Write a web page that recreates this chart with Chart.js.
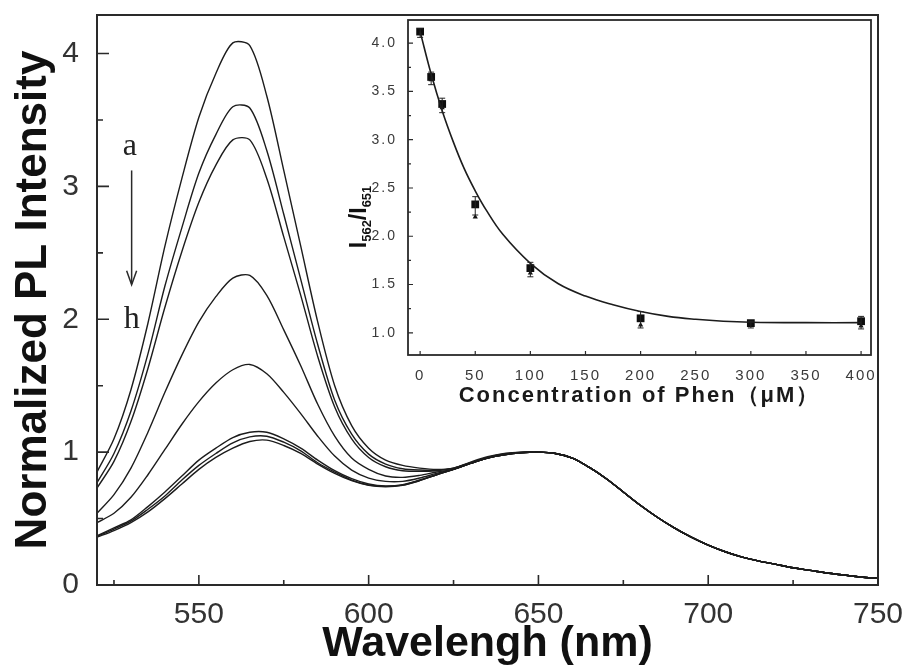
<!DOCTYPE html>
<html><head><meta charset="utf-8">
<script src="https://cdn.jsdelivr.net/npm/chart.js@4.4.1/dist/chart.umd.min.js"></script>
<style>
html,body{margin:0;padding:0;background:#fff;}
#wrap{position:relative;width:912px;height:671px;overflow:hidden;}
#main{position:absolute;left:0;top:0;}
#inset{position:absolute;left:320px;top:0;}
</style></head><body>
<div id="wrap"><canvas id="main" width="912" height="671"></canvas><canvas id="inset" width="565" height="420"></canvas></div>
<script>
// ---------- main spectra ----------
const wavelengths = [520,525,530,535,540,545,550,555,560,565,570,575,580,585,590,595,600,605,610,615,620,625,
  630,635,640,645,650,655,660,665,670,675,680,685,690,695,700,705,710,715,720,725,730,735,740,745,750];
const curveA = [0.85,1.10,1.47,1.97,2.55,3.06,3.52,3.85,4.08,4.06,3.68,3.12,2.55,1.98,1.50,1.20,1.03,0.94,0.90,0.88,0.87,0.88,
  0.925,0.965,0.99,1.0,1.0,0.99,0.955,0.885,0.80,0.70,0.60,0.51,0.43,0.36,0.30,0.25,0.21,0.18,0.155,0.13,0.11,0.09,0.075,0.06,0.05];
const curveB = [0.77,0.99,1.31,1.74,2.25,2.69,3.10,3.39,3.60,3.59,3.27,2.79,2.30,1.81,1.39,1.135,0.985,0.91,0.875,0.865,0.864,0.878,
  0.92,0.96,0.988,1.0,1.0,0.99,0.955,0.885,0.80,0.70,0.60,0.51,0.43,0.36,0.30,0.25,0.21,0.18,0.155,0.13,0.11,0.09,0.075,0.06,0.05];
const curveC = [0.73,0.93,1.23,1.63,2.09,2.51,2.88,3.16,3.35,3.35,3.06,2.62,2.18,1.72,1.34,1.10,0.96,0.89,0.86,0.855,0.86,0.88,
  0.918,0.958,0.985,0.998,1.0,0.99,0.955,0.885,0.80,0.70,0.60,0.51,0.43,0.36,0.30,0.25,0.21,0.18,0.155,0.13,0.11,0.09,0.075,0.06,0.05];
const curveD = [0.54,0.68,0.88,1.15,1.45,1.73,1.98,2.17,2.31,2.33,2.18,1.92,1.65,1.36,1.12,0.955,0.87,0.82,0.81,0.825,0.85,0.872,
  0.915,0.955,0.982,0.996,1.0,0.99,0.955,0.885,0.80,0.70,0.60,0.51,0.43,0.36,0.30,0.25,0.21,0.18,0.155,0.13,0.11,0.09,0.075,0.06,0.05];
const curveE = [0.47,0.54,0.66,0.83,1.02,1.21,1.38,1.52,1.62,1.66,1.59,1.45,1.29,1.12,0.97,0.865,0.805,0.78,0.78,0.805,0.84,0.87,
  0.915,0.955,0.98,0.995,1.0,0.99,0.955,0.885,0.80,0.70,0.60,0.51,0.43,0.36,0.30,0.25,0.21,0.18,0.155,0.13,0.11,0.09,0.075,0.06,0.05];
const curveF = [0.37,0.43,0.49,0.59,0.70,0.82,0.94,1.03,1.11,1.15,1.15,1.10,1.03,0.94,0.86,0.80,0.76,0.745,0.755,0.79,0.83,0.87,
  0.915,0.955,0.98,0.995,1.0,0.99,0.955,0.885,0.80,0.70,0.60,0.51,0.43,0.36,0.30,0.25,0.21,0.18,0.155,0.13,0.11,0.09,0.075,0.06,0.05];
const curveG = [0.365,0.42,0.48,0.57,0.67,0.79,0.90,0.99,1.07,1.115,1.12,1.075,1.01,0.92,0.85,0.79,0.753,0.742,0.752,0.786,0.83,0.87,
  0.915,0.955,0.98,0.995,1.0,0.99,0.955,0.885,0.80,0.70,0.60,0.51,0.43,0.36,0.30,0.25,0.21,0.18,0.155,0.13,0.11,0.09,0.075,0.06,0.05];
const curveH = [0.36,0.41,0.47,0.55,0.65,0.76,0.87,0.96,1.03,1.08,1.09,1.05,0.99,0.91,0.84,0.785,0.75,0.74,0.75,0.785,0.83,0.87,
  0.915,0.955,0.98,0.995,1.0,0.99,0.955,0.885,0.80,0.70,0.60,0.51,0.43,0.36,0.30,0.25,0.21,0.18,0.155,0.13,0.11,0.09,0.075,0.06,0.05];
const seriesNames = ['a','b','c','d','e','f','g','h'];
const mainXTicks = [550,600,650,700,750];
const mainXMinor = [525,575,625,675,725];
const mainYTicks = [0,1,2,3,4];
const mainYMinor = [0.5,1.5,2.5,3.5];

// ---------- inset ----------
const concentrations = [0,10,20,50,100,200,300,400];
const ratioMeans  = [4.12,3.65,3.37,2.33,1.67,1.15,1.10,1.12];
const ratioAlt    = [4.10,3.62,3.33,2.20,1.62,1.08,1.09,1.07];
const ratioErrors = [0.03,0.05,0.06,0.08,0.06,0.07,0.02,0.05];
const fitConc  = [0,10,20,30,40,50,60,75,100,125,150,175,200,225,250,275,300,350,400];
const fitRatio = [4.12,3.68,3.30,2.98,2.70,2.47,2.27,2.02,1.72,1.51,1.38,1.29,1.22,1.17,1.14,1.12,1.11,1.105,1.105];
const insetXTicks = [0,50,100,150,200,250,300,350,400];
const insetYTicks = [1.0,1.5,2.0,2.5,3.0,3.5,4.0];
const insetYMinor = [1.25,1.75,2.25,2.75,3.25,3.75];

Chart.defaults.font.family = "'Liberation Sans', Arial, sans-serif";
Chart.defaults.color = '#222';

const curves = [curveA,curveB,curveC,curveD,curveE,curveF,curveG,curveH];

const mainFrame = {
  id:'mainFrame',
  afterDraw(chart){
    const {ctx, chartArea:{left,right,top,bottom}, scales:{x,y}} = chart;
    ctx.save();
    ctx.strokeStyle = '#2a2a2a';
    ctx.lineWidth = 2;
    ctx.strokeRect(left, top, right-left, bottom-top);
    ctx.lineWidth = 1.6;
    ctx.beginPath();
    mainXTicks.forEach(v=>{const p=x.getPixelForValue(v); ctx.moveTo(p,bottom); ctx.lineTo(p,bottom-10);});
    mainXMinor.forEach(v=>{const p=x.getPixelForValue(v); ctx.moveTo(p,bottom); ctx.lineTo(p,bottom-5);});
    mainYTicks.forEach(v=>{const p=y.getPixelForValue(v); ctx.moveTo(left,p); ctx.lineTo(left+12,p);});
    mainYMinor.forEach(v=>{const p=y.getPixelForValue(v); ctx.moveTo(left,p); ctx.lineTo(left+6,p);});
    ctx.stroke();
    // a -> h annotation
    ctx.fillStyle = '#222';
    ctx.font = "32px 'Liberation Serif', 'Times New Roman', serif";
    ctx.textAlign = 'center'; ctx.textBaseline = 'middle';
    ctx.fillText(seriesNames[0], x.getPixelForValue(529.7), y.getPixelForValue(3.30));
    ctx.fillText(seriesNames[7], x.getPixelForValue(530.2), y.getPixelForValue(2.00));
    const ax = x.getPixelForValue(530.2), ay0 = y.getPixelForValue(3.12), ay1 = y.getPixelForValue(2.26);
    ctx.lineWidth = 1.5;
    ctx.beginPath(); ctx.moveTo(ax, ay0); ctx.lineTo(ax, ay1-1); ctx.stroke();
    ctx.beginPath(); ctx.moveTo(ax-5, ay1-14); ctx.lineTo(ax, ay1); ctx.lineTo(ax+5, ay1-14); ctx.stroke();
    ctx.restore();
  }
};

new Chart(document.getElementById('main'), {
  type:'line',
  data:{
    datasets: curves.map((c,i)=>({
      label: seriesNames[i],
      data: wavelengths.map((w,j)=>({x:w, y:c[j]})),
      borderColor:'#1c1c1c', borderWidth:1.4, pointRadius:0, tension:0.3, fill:false
    }))
  },
  options:{
    responsive:false, animation:false, events:[],
    layout:{padding:{top:15,right:34,left:0,bottom:0}},
    plugins:{legend:{display:false}, tooltip:{enabled:false}},
    scales:{
      x:{
        type:'linear', min:520, max:750,
        afterBuildTicks: s=>{ s.ticks = mainXTicks.map(v=>({value:v})); },
        grid:{display:false, drawTicks:false}, border:{display:false},
        ticks:{font:{size:30}, color:'#333', padding:12, maxRotation:0, autoSkip:false},
        title:{display:true, text:'Wavelengh (nm)', font:{size:43, weight:'bold'}, color:'#111', padding:{top:0,bottom:1}},
        afterFit: s=>{ s.height = 86; s.paddingLeft = 0; s.paddingRight = 0; }
      },
      y:{
        type:'linear', min:0, max:4.29,
        afterBuildTicks: s=>{ s.ticks = mainYTicks.map(v=>({value:v})); },
        grid:{display:false, drawTicks:false}, border:{display:false},
        ticks:{font:{size:30}, color:'#333', padding:18},
        title:{display:true, text:'Normalized PL Intensity', font:{size:44, weight:'bold'}, color:'#111', padding:{top:7,bottom:0}},
        afterFit: s=>{ s.width = 97; s.paddingTop = 0; s.paddingBottom = 0; }
      }
    }
  },
  plugins:[mainFrame]
});

const insetDeco = {
  id:'insetDeco',
  beforeDraw(chart){ chart.ctx.letterSpacing = '2px'; },
  afterDraw(chart){
    const {ctx, chartArea:{left,right,top,bottom}, scales:{x,y}} = chart;
    ctx.save();
    ctx.letterSpacing = '0px';
    ctx.strokeStyle = '#2a2a2a';
    ctx.lineWidth = 1.8;
    ctx.strokeRect(left, top, right-left, bottom-top);
    ctx.lineWidth = 1.2;
    ctx.beginPath();
    insetXTicks.forEach(v=>{const p=x.getPixelForValue(v); ctx.moveTo(p,bottom); ctx.lineTo(p,bottom-4);});
    insetYTicks.forEach(v=>{const p=y.getPixelForValue(v); ctx.moveTo(left,p); ctx.lineTo(left+5,p);});
    insetYMinor.forEach(v=>{const p=y.getPixelForValue(v); ctx.moveTo(left,p); ctx.lineTo(left+3,p);});
    ctx.stroke();
    // y title I562/I651
    const cx = left - 50, cy = y.getPixelForValue(2.2);
    ctx.translate(cx, cy); ctx.rotate(-Math.PI/2);
    ctx.fillStyle = '#111';
    const big = "bold 23px 'Liberation Sans', Arial, sans-serif";
    const small = "bold 13px 'Liberation Sans', Arial, sans-serif";
    const parts = [['I',big,0],['562',small,5],['/I',big,0],['651',small,5]];
    let total = 0;
    parts.forEach(p=>{ctx.font=p[1]; total += ctx.measureText(p[0]).width;});
    let px = -total/2;
    ctx.textBaseline = 'alphabetic'; ctx.textAlign = 'left';
    parts.forEach(p=>{ctx.font=p[1]; ctx.fillText(p[0], px, 8 + p[2]); px += ctx.measureText(p[0]).width;});
    ctx.restore();
  },
  afterDatasetsDraw(chart){
    const {ctx, scales:{x,y}} = chart;
    ctx.save();
    ctx.strokeStyle = '#222'; ctx.lineWidth = 1;
    concentrations.forEach((c,i)=>{
      const px = x.getPixelForValue(c);
      const p0 = y.getPixelForValue(ratioMeans[i]-ratioErrors[i]-0.03);
      const p1 = y.getPixelForValue(ratioMeans[i]+ratioErrors[i]);
      ctx.beginPath();
      ctx.moveTo(px,p0); ctx.lineTo(px,p1);
      ctx.moveTo(px-3,p0); ctx.lineTo(px+3,p0);
      ctx.moveTo(px-3,p1); ctx.lineTo(px+3,p1);
      ctx.stroke();
    });
    ctx.restore();
  }
};

const insetChart = new Chart(document.getElementById('inset'), {
  type:'scatter',
  data:{
    datasets:[
      {label:'fit', data: fitConc.map((c,i)=>({x:c,y:fitRatio[i]})), showLine:true, borderColor:'#1c1c1c', borderWidth:1.6, pointRadius:0, tension:0.4},
      {label:'alt', data: concentrations.map((c,i)=>({x:c,y:ratioAlt[i]})), pointStyle:'triangle', pointRadius:3, backgroundColor:'#111', borderColor:'#111', borderWidth:0},
      {label:'mean', data: concentrations.map((c,i)=>({x:c,y:ratioMeans[i]})), pointStyle:'rect', pointRadius:5.5, backgroundColor:'#0d0d0d', borderColor:'#0d0d0d', borderWidth:0}
    ]
  },
  options:{
    responsive:false, animation:false, events:[],
    layout:{padding:{top:20,right:14,left:0,bottom:0}},
    plugins:{legend:{display:false}, tooltip:{enabled:false}},
    scales:{
      x:{
        type:'linear', min:-11, max:409,
        afterBuildTicks: s=>{ s.ticks = insetXTicks.map(v=>({value:v})); },
        grid:{display:false, drawTicks:false}, border:{display:false},
        ticks:{font:{size:15}, color:'#3a3a3a', padding:12, maxRotation:0, autoSkip:false},
        title:{display:true, text:'Concentration of Phen（μM）', font:{size:22, weight:'bold'}, color:'#1a1a1a', padding:{top:0,bottom:11}},
        afterFit: s=>{ s.height = 65; s.paddingLeft = 0; s.paddingRight = 0; }
      },
      y:{
        type:'linear', min:0.77, max:4.24,
        afterBuildTicks: s=>{ s.ticks = insetYTicks.map(v=>({value:v})); },
        grid:{display:false, drawTicks:false}, border:{display:false},
        ticks:{font:{size:14}, color:'#3a3a3a', padding:11, callback:v=>Number(v).toFixed(1)},
        afterFit: s=>{ s.width = 88; s.paddingTop = 0; s.paddingBottom = 0; }
      }
    }
  },
  plugins:[insetDeco]
});
// narrower letter spacing for the inset y tick labels
const yScale = insetChart.scales.y;
const origYDraw = yScale.draw;
yScale.draw = function(area){
  const c = this.ctx; const prev = c.letterSpacing;
  c.letterSpacing = '0.5px';
  origYDraw.call(this, area);
  c.letterSpacing = prev;
};
insetChart.draw();
</script>
</body></html>
